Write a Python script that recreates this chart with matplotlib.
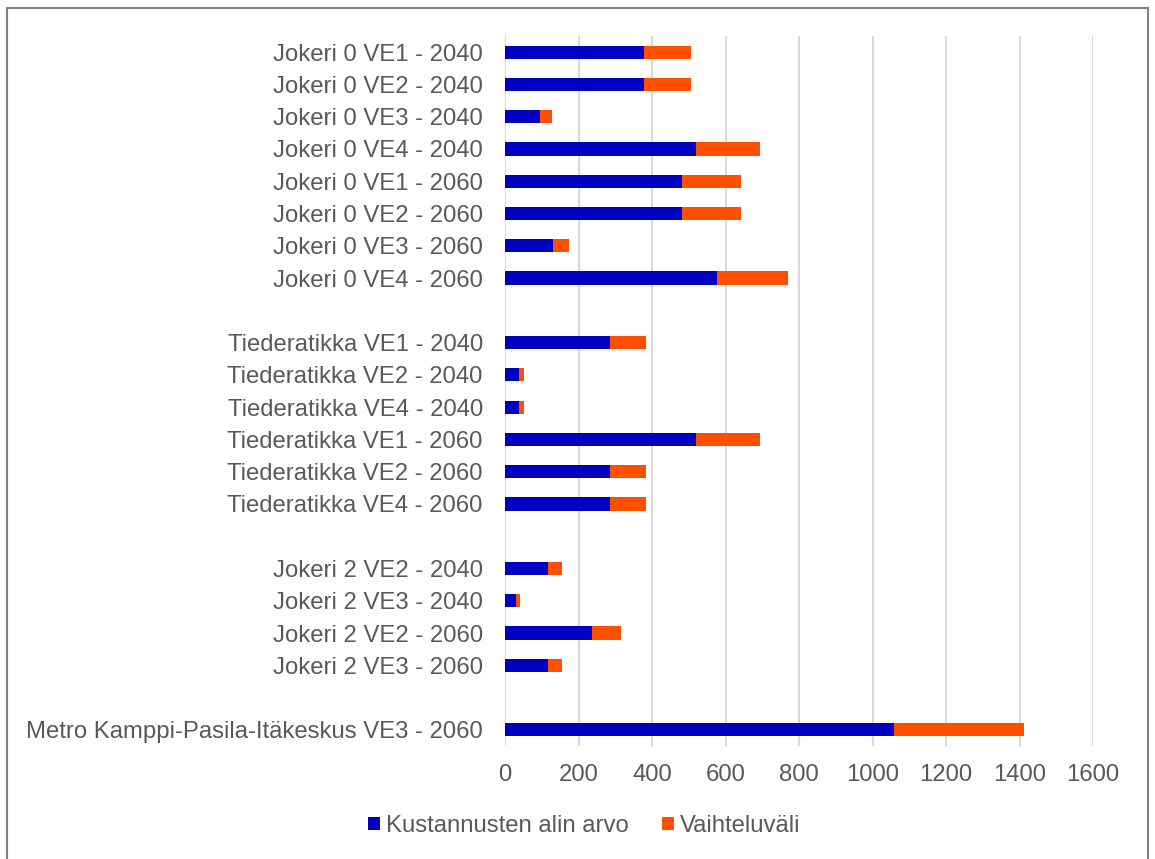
import matplotlib.pyplot as plt
from matplotlib.patches import Rectangle

plt.rcParams['font.family'] = ['Liberation Sans', 'DejaVu Sans']

# Rivit ylhäältä alas; tyhjä merkkijono = väli ryhmien välissä
rivit = [
    "Jokeri 0 VE1 - 2040", "Jokeri 0 VE2 - 2040", "Jokeri 0 VE3 - 2040", "Jokeri 0 VE4 - 2040",
    "Jokeri 0 VE1 - 2060", "Jokeri 0 VE2 - 2060", "Jokeri 0 VE3 - 2060", "Jokeri 0 VE4 - 2060",
    "",
    "Tiederatikka VE1 - 2040", "Tiederatikka VE2 - 2040", "Tiederatikka VE4 - 2040",
    "Tiederatikka VE1 - 2060", "Tiederatikka VE2 - 2060", "Tiederatikka VE4 - 2060",
    "",
    "Jokeri 2 VE2 - 2040", "Jokeri 2 VE3 - 2040", "Jokeri 2 VE2 - 2060", "Jokeri 2 VE3 - 2060",
    "",
    "Metro Kamppi-Pasila-Itäkeskus VE3 - 2060",
]
alin_arvo = [378, 378, 94, 520, 481, 481, 131, 576,
             0,
             287, 38, 38, 520, 287, 287,
             0,
             117, 30, 236, 117,
             0,
             1058]
vaihteluvali = [128, 128, 34, 174, 161, 161, 43, 193,
                0,
                96, 15, 15, 174, 96, 96,
                0,
                38, 10, 81, 38,
                0,
                354]
x_tikit = [0, 200, 400, 600, 800, 1000, 1200, 1400, 1600]

SININEN = "#0000C0"
ORANSSI = "#FF5000"
HARMAA = "#595959"
FONTTI = 17.2

fig = plt.figure(figsize=(11.55, 8.59), dpi=100)
ax = fig.add_axes([505 / 1155, 1 - 746 / 859, 588 / 1155, 710 / 859])

y = list(range(len(rivit)))
ax.barh(y, alin_arvo, height=0.41, color=SININEN, label="Kustannusten alin arvo", zorder=3)
ax.barh(y, vaihteluvali, left=alin_arvo, height=0.41, color=ORANSSI, label="Vaihteluväli", zorder=3)

ax.set_xlim(0, 1600)
ax.set_ylim(len(rivit) - 0.5, -0.5)
ax.set_xticks(x_tikit)
ax.set_xticklabels([str(t) for t in x_tikit])
ax.set_yticks(y)
ax.set_yticklabels(rivit)
ax.tick_params(axis='y', length=0, pad=16, labelsize=FONTTI, labelcolor=HARMAA)
ax.tick_params(axis='x', length=0, pad=13, labelsize=FONTTI, labelcolor=HARMAA)

ax.grid(axis='x', color="#D9D9D9", linewidth=1.5, zorder=0)
for s in ax.spines.values():
    s.set_visible(False)

leg = fig.legend(loc='center', bbox_to_anchor=(0.506, 1 - 826 / 859), ncol=2, frameon=False,
                 fontsize=FONTTI, handlelength=0.5, handleheight=0.5, handletextpad=0.25,
                 columnspacing=1.4)
for t in leg.get_texts():
    t.set_color(HARMAA)

# kehys kuvion ympärillä
fig.patches.append(Rectangle((6.5 / 1155, -0.01), 1141 / 1155, 1 - 7.5 / 859 + 0.01,
                             transform=fig.transFigure, fill=False,
                             edgecolor="#808080", linewidth=1.5))

fig.savefig("out.png", dpi=100)
